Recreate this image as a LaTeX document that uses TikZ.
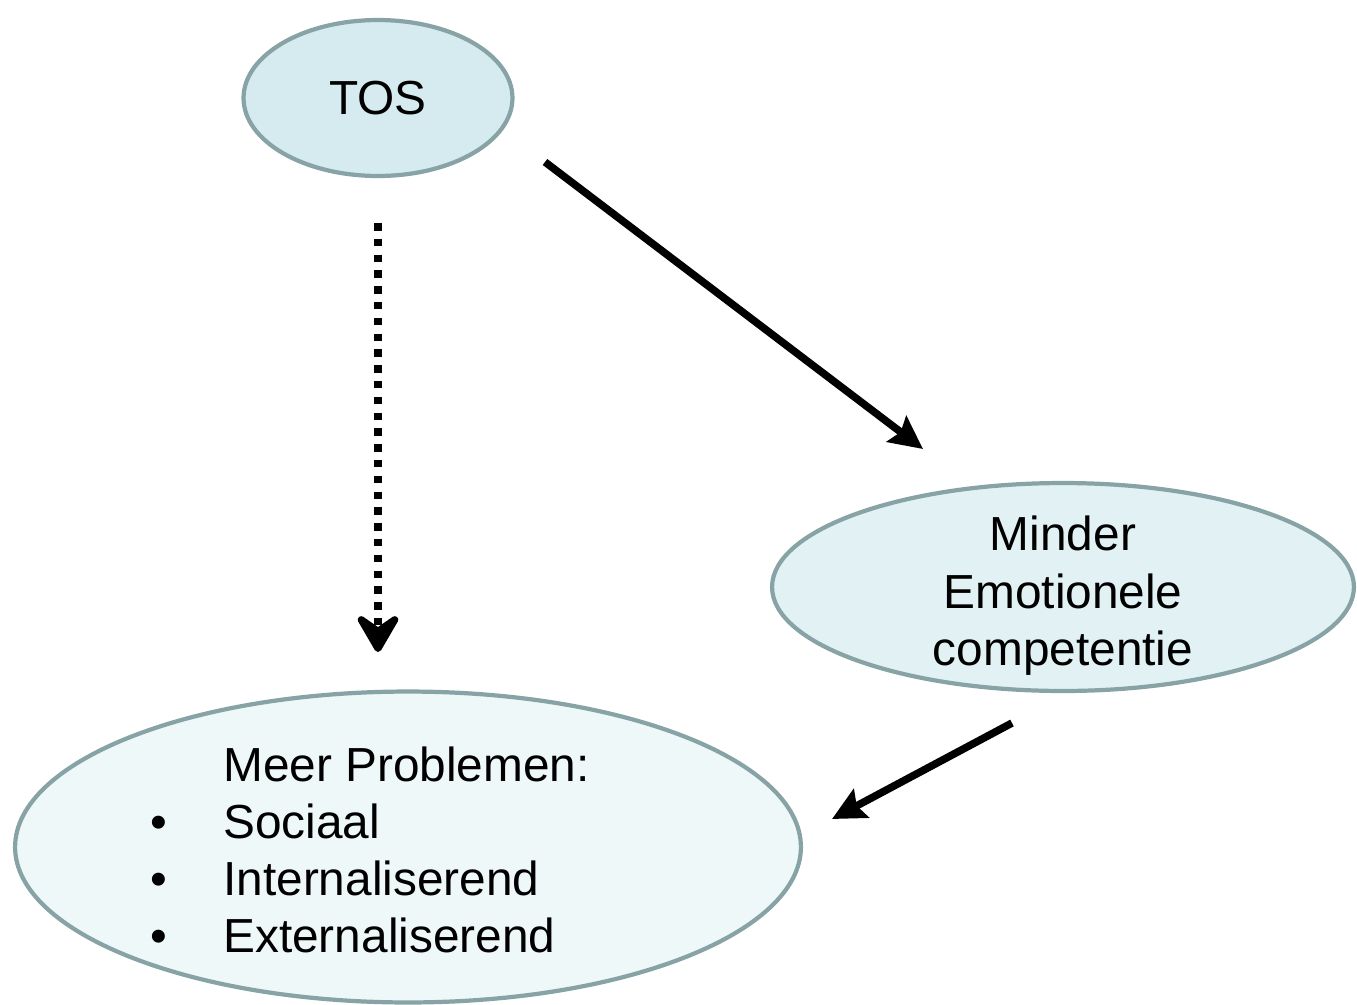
\documentclass[tikz,border=0pt]{standalone}
\usepackage{fontspec}
\setmainfont{Liberation Sans}
\usetikzlibrary{arrows.meta,shapes.geometric}
\definecolor{rand}{HTML}{87A3A5}
\definecolor{tosfill}{HTML}{D6EBEF}
\definecolor{minderfill}{HTML}{E2F2F4}
\definecolor{meerfill}{HTML}{EFF8F8}

\begin{document}
\begin{tikzpicture}[x=0.02cm,y=-0.02cm,
    bol/.style={ellipse,draw=rand,line width=2.4pt,inner sep=0pt,font=\fontsize{27.2}{32.6}\selectfont},
    pijl/.style={line width=4.3pt,-{Stealth[length=0.66cm,width=0.64cm,inset=0.1cm]}},
    stip/.style={line width=4.4pt,dash pattern=on 0.15cm off 0.166cm,-{Stealth[length=0.95cm,width=1.1cm,inset=0.38cm,round]}}]
  \useasboundingbox (0,0) rectangle (1357,1005);
  \node[bol,fill=tosfill,minimum width=5.38cm,minimum height=3.12cm] (tos) at (378,98) {TOS};
  \node[bol,fill=minderfill,minimum width=11.64cm,minimum height=4.16cm] (minder) at (1063,587)
    {\raisebox{-0.41cm}[0pt][0pt]{\begin{tabular}{@{}c@{}}Minder\\Emotionele\\competentie\end{tabular}}};
  \node[bol,fill=meerfill,minimum width=15.72cm,minimum height=6.22cm] (meer) at (408,847) {};
  \node[anchor=base west,inner sep=0pt,font=\fontsize{27.2}{32.6}\selectfont] (problemen) at (150,781)
    {\begin{tabular}[t]{@{}p{1.46cm}@{}l@{}}
      & Meer Problemen:\\
      \textbullet & Sociaal\\
      \textbullet & Internaliserend\\
      \textbullet & Externaliserend
    \end{tabular}};
  \coordinate (tosonder) at (378,223);
  \coordinate (meerboven) at (378,652);
  \coordinate (tosrechts) at (545,162);
  \coordinate (minderboven) at (923,449);
  \coordinate (minderonder) at (1012,723);
  \coordinate (meerrechts) at (832,819);
  \draw[stip] (tosonder) -- (meerboven);
  \draw[pijl] (tosrechts) -- (minderboven);
  \draw[pijl] (minderonder) -- (meerrechts);
\end{tikzpicture}
\end{document}
